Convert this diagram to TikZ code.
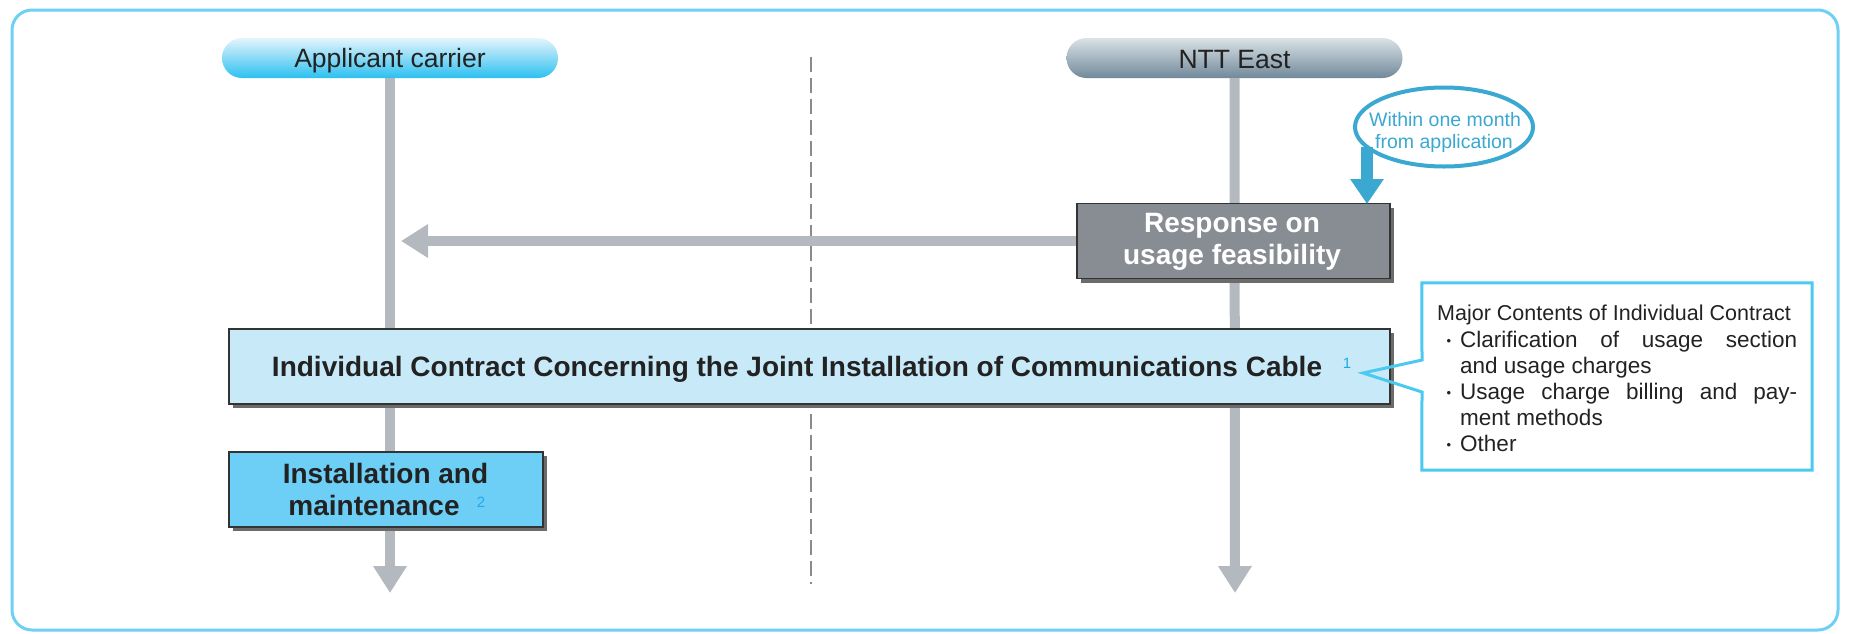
\documentclass[tikz,border=0pt]{standalone}
\usepackage{fontspec}
\setmainfont{Liberation Sans}
\usetikzlibrary{arrows.meta,shapes.geometric,shadows}
\definecolor{frameblue}{HTML}{6FD0F5}
\definecolor{lanegray}{HTML}{B4B8BF}
\definecolor{respgray}{HTML}{878D93}
\definecolor{contractblue}{HTML}{C8EAF8}
\definecolor{instblue}{HTML}{6DCFF5}
\definecolor{accent}{HTML}{3AA8D0}
\definecolor{callblue}{HTML}{4CC9F0}
\definecolor{supblue}{HTML}{1EAAE8}
\definecolor{shadowgray}{HTML}{6B6B6B}
\definecolor{ink}{HTML}{222222}
\definecolor{divgray}{HTML}{8A8A8A}
\definecolor{apptop}{HTML}{E4F4FC}
\definecolor{appmid}{HTML}{A6E0F7}
\definecolor{appbot}{HTML}{2CC0F0}
\definecolor{ntttop}{HTML}{DAE2E6}
\definecolor{nttmid}{HTML}{AEBCC4}
\definecolor{nttbot}{HTML}{71899A}
\begin{document}
\begin{tikzpicture}[x=1pt,y=-1pt,
  frame/.style={draw=frameblue,line width=3pt,rounded corners=20pt},
  pill/.style={rounded corners=20pt,minimum width=336pt,minimum height=40pt,inner sep=0pt},
  pilltext/.style={font=\fontsize{26.5}{30}\selectfont,text=ink,inner sep=0pt,anchor=base},
  lane/.style={draw=lanegray,line width=10pt,-{Triangle[length=27pt,width=32pt]}},
  divider/.style={draw=divgray,line width=1.5pt,dash pattern=on 15pt off 6pt},
  boxbase/.style={draw=black!80,line width=1.5pt,inner sep=0pt,minimum height=75pt,
    drop shadow={shadow xshift=4pt,shadow yshift=-4pt,fill=shadowgray,opacity=1}},
  boldtext/.style={font=\bfseries\fontsize{28}{32}\selectfont,inner sep=0pt,anchor=base,text=ink},
  suptext/.style={font=\fontsize{15}{17}\selectfont,text=supblue,inner sep=0pt},
  calltext/.style={font=\fontsize{22.5}{26}\selectfont,text=ink,inner sep=0pt,anchor=base west},
  bul/.style={font=\fontsize{13}{15}\selectfont,text=ink,inner sep=0pt,anchor=base},
  elltext/.style={font=\fontsize{19.5}{22}\selectfont,text=accent,inner sep=0pt,anchor=base}
]
\useasboundingbox (0,0) rectangle (1851,633);
\draw[frame] (12,10) rectangle (1838,630);

% swimlane headers
\node[pill,top color=apptop,middle color=appmid,bottom color=appbot] (app) at (390,58) {};
\node[pill,top color=ntttop,middle color=nttmid,bottom color=nttbot] (ntt) at (1234.5,58) {};
\node[pilltext] (appT) at (390,67) {Applicant carrier};
\node[pilltext] (nttT) at (1234.5,68) {NTT East};

% lanes
\coordinate (appEnd) at (390,593);
\coordinate (nttEnd) at (1235,593);
\draw[lane] (app.south) -- (appEnd);
\draw[lane] (ntt.south) -- (nttEnd);

% divider
\coordinate (divTop) at (811,57);
\coordinate (divBot) at (811,584);
\draw[divider] (divTop) -- (divBot);

% response box
\node[boxbase,fill=respgray,minimum width=313pt] (resp) at (1233.5,241) {};
\node[boldtext,text=white] (respT1) at (1232,232) {Response on};
\node[boldtext,text=white] (respT2) at (1232,264) {usage feasibility};
\coordinate (hTip) at (401,241);
\draw[lane] (resp.west) -- (hTip);

% deadline ellipse and arrow
\node[ellipse,draw=accent,line width=4pt,minimum width=178pt,minimum height=79pt,inner sep=0pt] (ell) at (1444,127) {};
\node[elltext] (ellT1) at (1445,126) {Within one month};
\node[elltext] (ellT2) at (1444,148) {from application};
\coordinate (bTip) at (1367,204);
\draw[draw=accent,line width=12pt,-{Triangle[length=25pt,width=32pt]}] (bTip |- ell.194) -- (bTip);

% contract box
\node[boxbase,fill=contractblue,minimum width=1161pt] (contract) at (809.5,366.5) {};
\node[boldtext] (contractT) at (797,376) {Individual Contract Concerning the Joint Installation of Communications Cable};
\node[suptext] (sup1) at (1347,363) {1};

% installation box
\node[boxbase,fill=instblue,minimum width=314pt] (inst) at (386,489.5) {};
\node[boldtext] (instT1) at (385.5,483) {Installation and};
\node[boldtext] (instT2) at (374,515) {maintenance};
\node[suptext] (sup2) at (481,502) {2};

% callout
\node[minimum width=390pt,minimum height=187pt,inner sep=0pt] (call) at (1617,376.5) {};
\coordinate (ptr) at (1363,373);
\draw[draw=callblue,line width=3pt,line join=miter]
  (call.north west) -- (call.north east) -- (call.south east) -- (call.south west)
  -- (1422,392) -- (ptr) -- (1422,360) -- cycle;
\node[calltext,font=\fontsize{21.5}{26}\selectfont] (callTitle) at (1437,320) {Major Contents of Individual Contract};
\node[bul] (b1) at (1449,345) {•};
\node[calltext] (c1) at (1460,347) {\makebox[337pt][s]{Clarification of usage section}};
\node[calltext] (c2) at (1460,373.2) {and usage charges};
\node[bul] (b2) at (1449,397.4) {•};
\node[calltext] (c3) at (1460,399.4) {\makebox[337pt][s]{Usage charge billing and pay-}};
\node[calltext] (c4) at (1460,425.6) {ment methods};
\node[bul] (b3) at (1449,449.8) {•};
\node[calltext] (c5) at (1460,451.8) {Other};
\end{tikzpicture}
\end{document}
